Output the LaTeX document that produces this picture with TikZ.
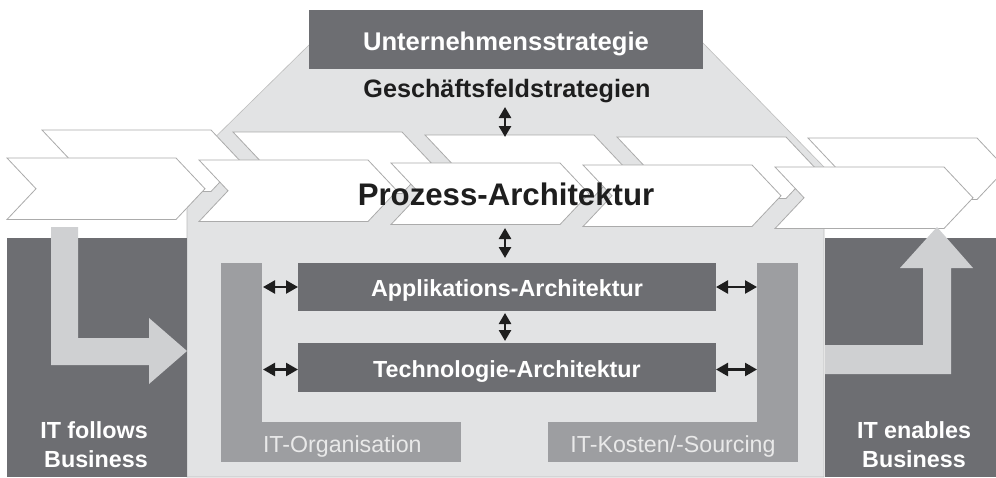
\documentclass[tikz,border=0pt]{standalone}
\usepackage{fontspec}
\setmainfont{Liberation Sans}
\usetikzlibrary{arrows.meta}
\definecolor{darkbox}{HTML}{6D6E72}
\definecolor{lightbg}{HTML}{E2E3E4}
\definecolor{polyline}{HTML}{BDBDBD}
\definecolor{midbar}{HTML}{9D9EA1}
\definecolor{arrowfill}{HTML}{CFD0D2}
\definecolor{chevline}{HTML}{ABABAB}
\definecolor{bartext}{HTML}{E9E9E9}
\definecolor{inkblack}{HTML}{1E1E1E}
\begin{document}
\begin{tikzpicture}[x=1pt,y=-1pt,
  chev/.style={fill=white,draw=chevline,line width=0.8pt},
  darkrect/.style={fill=darkbox,draw=none,inner sep=0pt,outer sep=0pt,anchor=north west},
  midrect/.style={fill=midbar,draw=none,inner sep=0pt,outer sep=0pt,anchor=north west},
  lbl/.style={inner sep=0pt,outer sep=0pt,anchor=base},
  dbl/.style={{Triangle[length=12pt,width=13pt]}-{Triangle[length=12pt,width=13pt]},line width=2.4pt,draw=inkblack},
  dblv/.style={{Triangle[length=11pt,width=12pt]}-{Triangle[length=11pt,width=12pt]},line width=2.6pt,draw=inkblack},
  liftarrow/.style={fill=arrowfill,draw=none}]
\useasboundingbox (0,0) rectangle (996,477);
\clip (0,0) rectangle (996,477);
\fill[white] (0,0) rectangle (996,477);
% light grey area
\filldraw[fill=lightbg,draw=polyline,line width=0.6pt] (309,45) -- (703,43) -- (824,167) -- (824,477) -- (187,477) -- (187,165) -- cycle;
% dark side blocks
\fill[darkbox] (7,238) rectangle (187,477);
\fill[darkbox] (825,238) rectangle (996,477);
% back row of chevrons
\foreach \cx/\cy in {42/130,233/132,425/135,617/137,808/138}
  \draw[chev] (\cx,\cy) -- ++(169,0) -- ++(29,30.75) -- ++(-29,30.75) -- ++(-169,0) -- ++(29,-30.75) -- cycle;
% front row of chevrons
\foreach \cx/\cy in {7/158,199/160,391/163,583/165,775/167}
  \draw[chev] (\cx,\cy) -- ++(169,0) -- ++(29,30.75) -- ++(-29,30.75) -- ++(-169,0) -- ++(29,-30.75) -- cycle;
% boxes
\node[darkrect,minimum width=394pt,minimum height=59pt] (usbox) at (309,10) {};
\node[darkrect,minimum width=418pt,minimum height=48pt] (app) at (298,263) {};
\node[darkrect,minimum width=418pt,minimum height=49pt] (tech) at (298,343) {};
\node[midrect,minimum width=41pt,minimum height=199pt] (orgv) at (221,263) {};
\node[midrect,minimum width=240pt,minimum height=40pt] (orgh) at (221,422) {};
\node[midrect,minimum width=41pt,minimum height=199pt] (kostv) at (757,263) {};
\node[midrect,minimum width=250pt,minimum height=40pt] (kosth) at (548,422) {};
% texts
\node[lbl,text=white,font={\bfseries\fontsize{25.6}{30}\selectfont}] (ustxt) at (506,50) {Unternehmensstrategie};
\node[lbl,text=inkblack,font={\bfseries\fontsize{25.2}{30}\selectfont}] (gstxt) at (507,97) {Geschäftsfeldstrategien};
\node[lbl,text=inkblack,font={\bfseries\fontsize{31.2}{36}\selectfont}] (pztxt) at (506,205) {Prozess-Architektur};
\node[lbl,text=white,font={\bfseries\fontsize{23.3}{28}\selectfont}] (apptxt) at (507,296) {Applikations-Architektur};
\node[lbl,text=white,font={\bfseries\fontsize{23.3}{28}\selectfont}] (techtxt) at (507,377) {Technologie-Architektur};
\node[lbl,text=bartext,font={\fontsize{23.2}{28}\selectfont},anchor=base west] (orgtxt) at (263,452) {IT-Organisation};
\node[lbl,text=bartext,font={\fontsize{23.2}{28}\selectfont}] (kosttxt) at (673,452) {IT-Kosten/-Sourcing};
% lift arrows
\fill[liftarrow] (51,227) -- (78,227) -- (78,338) -- (149,338) -- (149,318) -- (187,351) -- (149,384) -- (149,365) -- (51,365) -- cycle;
\fill[liftarrow] (825,345) -- (923,345) -- (923,268) -- (900,268) -- (937,227) -- (973,268) -- (951,268) -- (951,374) -- (825,374) -- cycle;
\node[lbl,text=white,font={\bfseries\fontsize{23.3}{28}\selectfont}] (itf1) at (94,438) {IT follows};
\node[lbl,text=white,font={\bfseries\fontsize{23.3}{28}\selectfont}] (itf2) at (96,467) {Business};
\node[lbl,text=white,font={\bfseries\fontsize{23.3}{28}\selectfont}] (ite1) at (914,438) {IT enables};
\node[lbl,text=white,font={\bfseries\fontsize{23.3}{28}\selectfont}] (ite2) at (914,467) {Business};
% connectors
\coordinate (va1) at (505,107);
\coordinate (va2) at (505,137);
\coordinate (vb1) at (505,228);
\draw[dblv] (va1) -- (va2);
\draw[dblv] (vb1) -- (vb1 |- app.north) [shorten >=5pt];
\draw[dblv,shorten <=2pt,shorten >=2pt] (vb1 |- app.south) -- (vb1 |- tech.north);
\draw[dbl,shorten <=1pt] (orgv.east |- app.west) -- (app.west);
\draw[dbl,shorten <=1pt] ([yshift=-2pt]orgv.east |- tech.west) -- ([yshift=-2pt]tech.west);
\draw[dbl] (app.east) -- (kostv.west |- app.east);
\draw[dbl] ([yshift=-2pt]tech.east) -- ([yshift=-2pt]kostv.west |- tech.east);
\end{tikzpicture}
\end{document}
